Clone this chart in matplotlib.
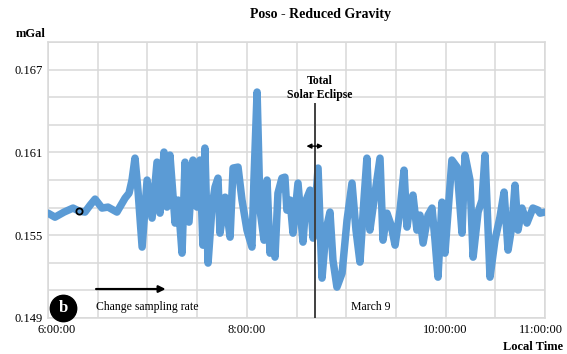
"""
Poso - Reduced Gravity (panel b)
Reduced gravity time series around the total solar eclipse of March 9.
Output: out.png
"""

import numpy as np
import matplotlib
matplotlib.use("Agg")
import matplotlib.pyplot as plt
import matplotlib.transforms as mtransforms

plt.rcParams["font.family"] = ["Liberation Serif", "DejaVu Serif"]

# ── Data ─────────────────────────────────────────────────────────────────────
# minutes after 06:00 local time
minutes = [
    0, 4.2, 9.7, 15.1, 18.7, 22.3, 25.4, 28.4, 32.6, 36.2, 41.6, 46.5, 48.9,
    50.7, 52.5, 54.3, 56.8, 59.8, 62.8, 65.8, 67.6, 70.0, 71.8, 73.6, 76.7,
    78.5, 80.9, 82.7, 85.1, 87.5, 89.9, 91.7, 93.5, 94.7, 96.6, 99.0, 100.8,
    102.6, 103.8, 106.9, 109.9, 111.7, 114.7, 117.1, 120.1, 123.1, 124.3,
    126.2, 128.0, 130.4, 132.2, 134.0, 135.8, 137.0, 138.8, 141.2, 143.0,
    144.2, 146.1, 147.9, 150.9, 153.9, 155.8, 158.2, 160.0, 163.0, 165.4,
    167.8, 170.2, 172.0, 174.4, 177.5, 180.5, 183.5, 185.9, 188.3, 190.7,
    192.5, 194.3, 196.8, 200.4, 202.2, 204.6, 207.1, 209.5, 212.5, 214.9,
    216.7, 218.5, 220.3, 222.7, 224.5, 226.4, 229.4, 231.8, 233.6, 235.4,
    237.8, 239.6, 242.0, 243.8, 246.9, 249.9, 251.7, 254.7, 256.6, 259.6,
    262.0, 263.8, 266.8, 269.8, 272.8, 275.3, 277.7, 280.1, 281.9, 283.7,
    286.1, 289.1, 292.7, 295.8, 297.0, 300.0,
]
gravity = [
    0.15660, 0.15631, 0.15668, 0.15697, 0.15675, 0.15668, 0.15718, 0.15762,
    0.15697, 0.15704, 0.15668, 0.15769, 0.15805, 0.15900, 0.16059, 0.15827,
    0.15414, 0.15900, 0.15624, 0.16030, 0.15660, 0.16103, 0.15704, 0.16081,
    0.15588, 0.15755, 0.15370, 0.16030, 0.15595, 0.16045, 0.15704, 0.16045,
    0.15428, 0.16132, 0.15298, 0.15704, 0.15849, 0.15914, 0.15515, 0.15776,
    0.15486, 0.15987, 0.15994, 0.15755, 0.15537, 0.15414, 0.15900, 0.16538,
    0.15682, 0.15464, 0.15900, 0.15370, 0.15537, 0.15341, 0.15805, 0.15914,
    0.15921, 0.15682, 0.15755, 0.15515, 0.15878, 0.15450, 0.15755, 0.15827,
    0.15479, 0.15987, 0.15189, 0.15537, 0.15668, 0.15320, 0.15124, 0.15225,
    0.15610, 0.15878, 0.15537, 0.15305, 0.15755, 0.16059, 0.15537, 0.15755,
    0.16059, 0.15464, 0.15660, 0.15573, 0.15428, 0.15682, 0.15972, 0.15559,
    0.15718, 0.15791, 0.15537, 0.15646, 0.15443, 0.15646, 0.15697, 0.15464,
    0.15196, 0.15740, 0.15370, 0.15755, 0.16045, 0.15994, 0.15515, 0.16081,
    0.15900, 0.15341, 0.15668, 0.15755, 0.16081, 0.15196, 0.15464, 0.15631,
    0.15813, 0.15392, 0.15573, 0.15863, 0.15537, 0.15697, 0.15588, 0.15697,
    0.15682, 0.15660, 0.15668,
]
marker_pt = (18.7, 0.15675)       # the small open circle on the trace
eclipse_min = 161                 # totality, ~08:41
x_labels = {0: "6:00:00", 120: "8:00:00", 240: "10:00:00", 300: "11:00:00"}
y_labels = [0.149, 0.155, 0.161, 0.167]

BLUE = "#5b9bd5"
GRID = "#d9d9d9"

# ── Plot ─────────────────────────────────────────────────────────────────────
fig = plt.figure(figsize=(5.67, 3.54), dpi=100)
ax = fig.add_axes([0.0847, 0.1017, 0.8765, 0.7793])

ax.plot(minutes, gravity, color=BLUE, lw=5.4, solid_joinstyle="round",
        solid_capstyle="round", zorder=3)
ax.plot(*marker_pt, "o", ms=4.5, mfc="none", mec="black", mew=1.3, zorder=4)

# eclipse line + double arrow
ax.plot([eclipse_min, eclipse_min], [0.149, 0.1645], color="#404040",
        lw=1.4, zorder=5)
ax.annotate("", xy=(156, 0.16146), xytext=(166, 0.16146),
            arrowprops=dict(arrowstyle="<|-|>", color="black", lw=1.0,
                            mutation_scale=7, shrinkA=0, shrinkB=0), zorder=6)
ax.text(eclipse_min + 3, 0.1662, "Total", ha="center", va="center",
        fontsize=8.5, fontweight="bold")
ax.text(eclipse_min + 3, 0.16515, "Solar Eclipse", ha="center", va="center",
        fontsize=8.5, fontweight="bold")

# sampling-rate arrow and labels
ax.annotate("", xy=(71, 0.1511), xytext=(29, 0.1511),
            arrowprops=dict(arrowstyle="-|>", color="black", lw=1.6,
                            mutation_scale=10, shrinkA=0, shrinkB=0))
ax.text(29, 0.1498, "Change sampling rate", ha="left", va="center",
        fontsize=8.5)
ax.text(183, 0.1498, "March 9", ha="left", va="center", fontsize=8.5)

# "b" badge
ax.plot(9, 0.1497, "o", ms=19, color="black", zorder=6, clip_on=False)
ax.text(9, 0.1497, "b", ha="center", va="center", color="white",
        fontsize=12, fontweight="bold", zorder=7)

# axes, grid
ax.set_xlim(0, 300)
ax.set_ylim(0.149, 0.169)
ax.set_xticks(np.arange(0, 301, 30))
ax.set_xticklabels([x_labels.get(t, "") for t in range(0, 301, 30)],
                   fontsize=9)
yt = np.round(np.arange(0.149, 0.1691, 0.002), 3)
ax.set_yticks(yt)
ax.set_yticklabels([f"{v:.3f}" if v in y_labels else "" for v in yt],
                   fontsize=9)
ax.tick_params(length=0, pad=4)
ax.grid(True, color=GRID, lw=1.1, zorder=0)
ax.set_axisbelow(True)
for s in ax.spines.values():
    s.set_color(GRID)
    s.set_linewidth(1.1)

lbls = ax.get_xticklabels()
lbls[0].set_transform(lbls[0].get_transform() +
                      mtransforms.ScaledTranslation(9 / 100, 0, fig.dpi_scale_trans))
lbls[-1].set_transform(lbls[-1].get_transform() +
                       mtransforms.ScaledTranslation(-4 / 100, 0, fig.dpi_scale_trans))

fig.text(0.5644, 0.96, "Poso - Reduced Gravity", ha="center", va="center",
         fontsize=10, fontweight="bold")
fig.text(0.028, 0.905, "mGal", ha="left", va="center", fontsize=9,
         fontweight="bold")
fig.text(0.993, 0.02, "Local Time", ha="right", va="center", fontsize=9,
         fontweight="bold")

fig.savefig("out.png", dpi=100)
plt.close(fig)
